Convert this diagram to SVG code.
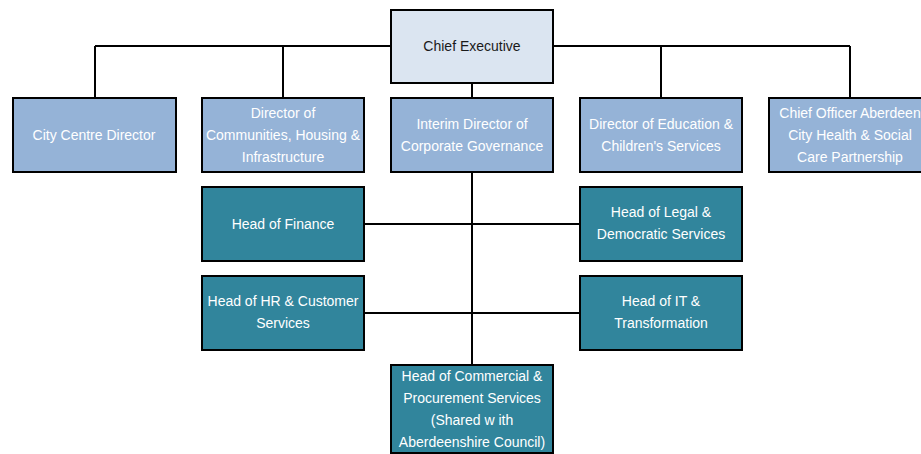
<svg xmlns="http://www.w3.org/2000/svg" width="921" height="454" viewBox="0 0 921 454">
<style>
.box{stroke:#000;stroke-width:2}
.ce{fill:#dbe5f1}
.dir{fill:#95b3d7}
.head{fill:#31859c}
text{font-family:"Liberation Sans",Arial,sans-serif;font-size:14px;text-anchor:middle;dominant-baseline:central}
.w{fill:#fff}
.d{fill:#1a1a1a}
.ln{stroke:#000;stroke-width:2;fill:none}
</style>
<rect width="921" height="454" fill="#fff"/>
<g id="connectors">
<path class="ln" d="M95,46 H850 M95,46 V98 M283,46 V98 M661,46 V98 M850,46 V98 M472,83 V98"/>
<path class="ln" d="M472,172 V365 M364,224 H580 M364,313 H580"/>
</g>
<g id="chief-executive">
<rect class="box ce" x="391" y="10" width="162" height="73"/>
<text class="d" x="472" y="46">Chief Executive</text>
</g>
<g id="city-centre-director">
<rect class="box dir" x="13" y="98" width="163" height="74"/>
<text class="w" x="94" y="135">City Centre Director</text>
</g>
<g id="director-communities">
<rect class="box dir" x="202" y="98" width="162" height="74"/>
<text class="w" x="283" y="113">Director of</text>
<text class="w" x="283" y="135">Communities, Housing &amp;</text>
<text class="w" x="283" y="157">Infrastructure</text>
</g>
<g id="interim-director">
<rect class="box dir" x="391" y="98" width="162" height="74"/>
<text class="w" x="472" y="124">Interim Director of</text>
<text class="w" x="472" y="146">Corporate Governance</text>
</g>
<g id="director-education">
<rect class="box dir" x="580" y="98" width="162" height="74"/>
<text class="w" x="661" y="124">Director of Education &amp;</text>
<text class="w" x="661" y="146">Children's Services</text>
</g>
<g id="chief-officer">
<rect class="box dir" x="769" y="98" width="162" height="74"/>
<text class="w" x="850" y="113">Chief Officer Aberdeen</text>
<text class="w" x="850" y="135">City Health &amp; Social</text>
<text class="w" x="850" y="157">Care Partnership</text>
</g>
<g id="head-finance">
<rect class="box head" x="202" y="187" width="162" height="74"/>
<text class="w" x="283" y="224">Head of Finance</text>
</g>
<g id="head-legal">
<rect class="box head" x="580" y="187" width="162" height="74"/>
<text class="w" x="661" y="212">Head of Legal &amp;</text>
<text class="w" x="661" y="234">Democratic Services</text>
</g>
<g id="head-hr">
<rect class="box head" x="202" y="276" width="162" height="74"/>
<text class="w" x="283" y="301">Head of HR &amp; Customer</text>
<text class="w" x="283" y="323">Services</text>
</g>
<g id="head-it">
<rect class="box head" x="580" y="276" width="162" height="74"/>
<text class="w" x="661" y="301">Head of IT &amp;</text>
<text class="w" x="661" y="323">Transformation</text>
</g>
<g id="head-commercial">
<rect class="box head" x="391" y="365" width="162" height="88"/>
<text class="w" x="472" y="376">Head of Commercial &amp;</text>
<text class="w" x="472" y="398">Procurement Services</text>
<text class="w" x="472" y="420">(Shared w ith</text>
<text class="w" x="472" y="442">Aberdeenshire Council)</text>
</g>
</svg>
